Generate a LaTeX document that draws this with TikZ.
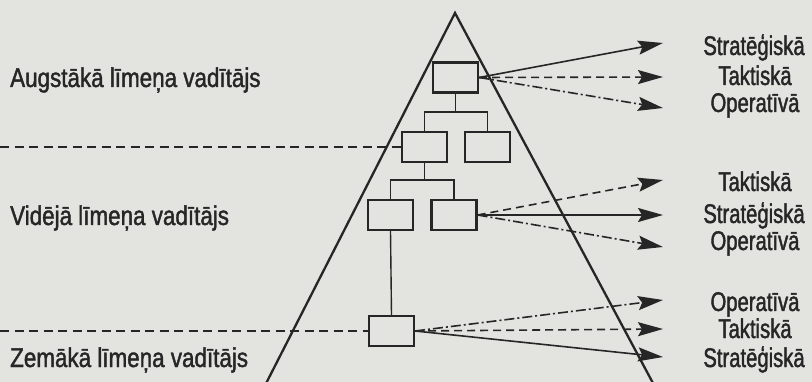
\documentclass[tikz,border=0pt]{standalone}
\usepackage{fontspec}
\setmainfont[FakeStretch=0.83,FakeBold=1.5]{Liberation Sans}
\newfontfamily\kindfont[FakeStretch=0.75,FakeBold=1.5]{Liberation Sans}
\usetikzlibrary{arrows.meta}
\definecolor{paper}{RGB}{227,227,224}
\definecolor{ink}{RGB}{38,38,38}
\begin{document}
\begin{tikzpicture}[x=1pt,y=-1pt,
  box/.style={draw=ink,line width=2.2pt,minimum width=45pt,minimum height=30pt,inner sep=0pt},
  lvl/.style={anchor=base west,inner sep=0pt,font=\fontsize{27}{32}\selectfont,text=ink},
  kind/.style={anchor=base,inner sep=0pt,font=\kindfont\fontsize{27}{32}\selectfont,text=ink},
  edge/.style={draw=ink,line width=2.3pt},
  link/.style={draw=ink,line width=1.4pt},
  tip/.style={draw=ink,line width=1.6pt,-{Stealth[length=25pt,width=14pt,inset=4pt]}},
  solidarr/.style={tip},
  dasharr/.style={tip,dash pattern=on 8pt off 5pt},
  dotarr/.style={tip,dash pattern=on 10pt off 3pt on 2pt off 3pt},
  divider/.style={draw=ink,line width=1.2pt,dash pattern=on 9pt off 5.5pt}
]
% paper and frame
\fill[paper] (0,0) rectangle (812,382);
\useasboundingbox (0,0) rectangle (812,382);
\clip (0,0) rectangle (812,382);

% pyramid
\coordinate (apex) at (455,13);
\coordinate (baseL) at (257.6,400);
\coordinate (baseR) at (662,400);
\draw[edge] (baseL) -- (apex) -- (baseR);

% organisation chart
\node[box] (b1)  at (455.5,77.5) {};
\node[box] (b2l) at (424.5,147) {};
\node[box] (b2r) at (487.5,147) {};
\node[box] (b3l) at (390.5,215) {};
\node[box] (b3r) at (454,215) {};
\node[box] (b4)  at (391.5,331) {};

\coordinate (j1) at (455.5,112);
\coordinate (j2) at (424.5,180);
\draw[link] (b1.south) -- (j1);
\draw[link] (b2l.north) |- (j1) -| (b2r.north);
\draw[link] (b2l.south) -- (j2);
\draw[link] (b3l.north) |- (j2) -| (b3r.north);
\draw[link] (b3l.south) -- (b4.north);

% level dividers
\coordinate (d1) at (0,147);
\coordinate (d2) at (0,331);
\draw[divider] (d1) -- (b2l.west);
\draw[divider] (d2) -- (b4.west);

% level names
\node[lvl] (l1) at (10,87)  {Augstākā līmeņa vadītājs};
\node[lvl] (l2) at (10,225) {Vidējā līmeņa vadītājs};
\node[lvl] (l3) at (10,367) {Zemākā līmeņa vadītājs};

% kinds of decisions
\node[kind] (s1) at (754,55)  {Stratēģiskā};
\node[kind] (t1) at (755,85)  {Taktiskā};
\node[kind] (o1) at (755,112) {Operatīvā};
\node[kind] (t2) at (755,191) {Taktiskā};
\node[kind] (s2) at (754,223) {Stratēģiskā};
\node[kind] (o2) at (755,250) {Operatīvā};
\node[kind] (o3) at (755,311) {Operatīvā};
\node[kind] (t3) at (755,338) {Taktiskā};
\node[kind] (s3) at (754,367) {Stratēģiskā};

% arrow tips in front of the names
\coordinate (as1) at (663,43);
\coordinate (at1) at (663,77);
\coordinate (ao1) at (663,108);
\coordinate (at2) at (663,180);
\coordinate (as2) at (663,215);
\coordinate (ao2) at (663,247);
\coordinate (ao3) at (663,300);
\coordinate (at3) at (663,329);
\coordinate (as3) at (663,357);

\draw[solidarr] (b1.east) -- (as1);
\draw[dasharr]  (b1.east) -- (at1);
\draw[dotarr]   (b1.east) -- (ao1);
\draw[dasharr]  (b3r.east) -- (at2);
\draw[solidarr] (b3r.east) -- (as2);
\draw[dotarr]   (b3r.east) -- (ao2);
\draw[dotarr]   (b4.east) -- (ao3);
\draw[dasharr]  (b4.east) -- (at3);
\draw[solidarr] (b4.east) -- (as3);
\end{tikzpicture}
\end{document}
